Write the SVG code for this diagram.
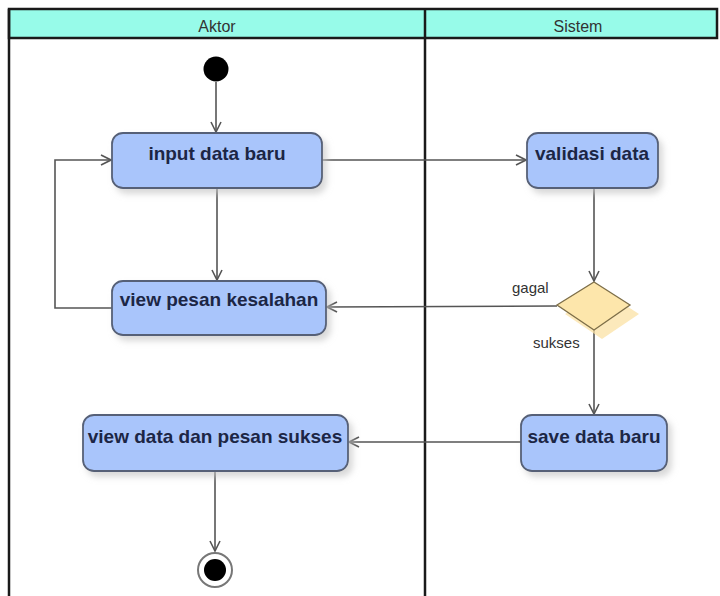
<svg xmlns="http://www.w3.org/2000/svg" width="720" height="596" viewBox="0 0 720 596">
  <defs>
    <style>
      .lane { fill: none; stroke: #1a1a1a; stroke-width: 2.5; }
      .head { fill: #97fbe9; stroke: #1a1a1a; stroke-width: 2.5; }
      .lane-title { font-family: "Liberation Sans", Arial, sans-serif; font-size: 16px; fill: #333; text-anchor: middle; }
      .act { fill: #a9c5fb; stroke: #566077; stroke-width: 1.8; filter: url(#shadow); }
      .act-label { font-family: "Liberation Sans", Arial, sans-serif; font-size: 19px; font-weight: bold; fill: #1c2645; text-anchor: middle; }
      .flow { fill: none; stroke: #555; stroke-width: 1.6; marker-end: url(#open); }
      .guard { font-family: "Liberation Sans", Arial, sans-serif; font-size: 15px; fill: #333; }
    </style>
    <marker id="open" viewBox="0 0 12 12" refX="11" refY="6" markerWidth="12" markerHeight="12" markerUnits="userSpaceOnUse" orient="auto">
      <path d="M1,1 L11,6 L1,11" fill="none" stroke="#555" stroke-width="1.6"/>
    </marker>
    <filter id="shadow" x="-10%" y="-20%" width="130%" height="150%">
      <feDropShadow dx="4" dy="5" stdDeviation="3" flood-color="#c4c4c4" flood-opacity="0.65"/>
    </filter>
  </defs>

  <rect width="720" height="596" fill="#ffffff"/>

  <!-- swimlanes -->
  <g id="lanes">
    <rect class="head" x="9" y="9" width="708" height="29"/>
    <line class="lane" x1="9" y1="9" x2="9" y2="596"/>
    <line class="lane" x1="425" y1="9" x2="425" y2="596"/>
    <text class="lane-title" x="217" y="32">Aktor</text>
    <text class="lane-title" x="578" y="32">Sistem</text>
  </g>

  <!-- connectors -->
  <g id="connectors">
    <line class="flow" x1="216" y1="82" x2="216" y2="132"/>
    <line class="flow" x1="322" y1="160" x2="526" y2="160"/>
    <line class="flow" x1="217" y1="188" x2="217" y2="280"/>
    <line class="flow" x1="594" y1="188" x2="594" y2="281"/>
    <polyline class="flow" points="112,308 55,308 55,160 111,160"/>
    <line class="flow" x1="557" y1="306" x2="327" y2="307"/>
    <line class="flow" x1="594" y1="330" x2="594" y2="414"/>
    <line class="flow" x1="521" y1="442" x2="349" y2="442"/>
    <line class="flow" x1="215" y1="472" x2="215" y2="551"/>
    <text class="guard" x="512" y="293">gagal</text>
    <text class="guard" x="533" y="348">sukses</text>
  </g>

  <g id="start">
    <circle cx="216" cy="69" r="12.5" fill="#000"/>
  </g>

  <g id="input-data-baru">
    <rect class="act" x="112" y="133" width="210" height="55" rx="11"/>
    <text class="act-label" x="217" y="160">input data baru</text>
  </g>

  <g id="validasi-data">
    <rect class="act" x="527" y="133" width="131" height="55" rx="11"/>
    <text class="act-label" x="592" y="160">validasi data</text>
  </g>

  <g id="view-pesan-kesalahan">
    <rect class="act" x="112" y="281" width="214" height="54" rx="11"/>
    <text class="act-label" x="219" y="306">view pesan kesalahan</text>
  </g>

  <g id="keputusan">
    <polygon points="602,290 639,314 602,339 565,314" fill="#fbe2a4" opacity="0.75"/>
    <polygon points="594,282 630,305 594,330 557,305" fill="#fde6ab" stroke="#7d6e48" stroke-width="1.3"/>
  </g>

  <g id="save-data-baru">
    <rect class="act" x="521" y="415" width="146" height="56" rx="11"/>
    <text class="act-label" x="594" y="443">save data baru</text>
  </g>

  <g id="view-data-dan-pesan-sukses">
    <rect class="act" x="83" y="415" width="265" height="56" rx="11"/>
    <text class="act-label" x="215" y="443">view data dan pesan sukses</text>
  </g>

  <g id="end">
    <circle cx="215" cy="570" r="17" fill="#fff" stroke="#777" stroke-width="2"/>
    <circle cx="215" cy="570" r="11" fill="#000"/>
  </g>
</svg>
